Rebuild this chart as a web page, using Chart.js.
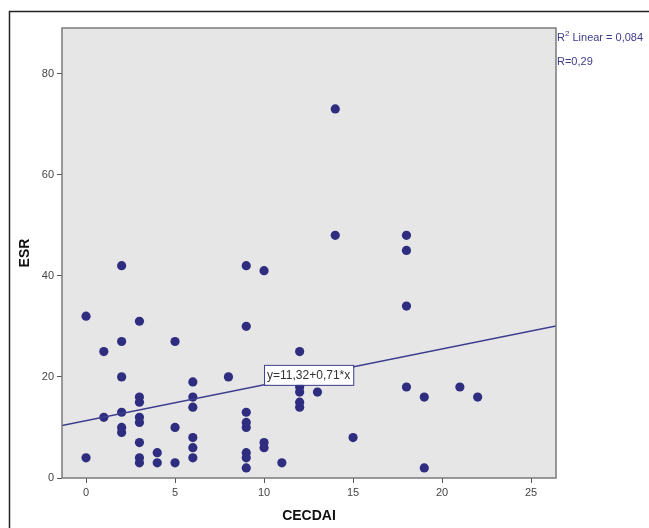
<!DOCTYPE html>
<html>
<head>
<meta charset="utf-8">
<script src="https://cdn.jsdelivr.net/npm/chart.js@4/dist/chart.umd.min.js"></script>
<style>
  html, body { margin: 0; padding: 0; background: #fff; }
  #wrap { width: 649px; height: 528px; position: relative; }
</style>
</head>
<body>
<div id="wrap"><canvas id="chart"></canvas></div>
<script>
// CECDAI vs ESR, one point per patient
var cecdai = [0, 0, 1, 1, 2, 2, 2, 2, 2, 2,
              3, 3, 3, 3, 3, 3, 3, 3,
              4, 4, 5, 5, 5,
              6, 6, 6, 6, 6, 6, 8,
              9, 9, 9, 9, 9, 9, 9, 9,
              10, 10, 10, 11,
              12, 12, 12, 12, 12, 13,
              14, 14, 15,
              18, 18, 18, 18, 19, 19, 21, 22];
var esr    = [32, 4, 25, 12, 42, 27, 20, 13, 10, 9,
              31, 16, 15, 12, 11, 7, 4, 3,
              5, 3, 27, 10, 3,
              19, 16, 14, 8, 6, 4, 20,
              42, 30, 13, 11, 10, 5, 4, 2,
              41, 7, 6, 3,
              25, 18, 17, 15, 14, 17,
              73, 48, 8,
              48, 45, 34, 18, 16, 2, 18, 16];

// fit line
var intercept = 11.32;
var slope = 0.71;
var fitLabel = "y=11,32+0,71*x";
var statLines = ["R² Linear = 0,084", "R=0,29"];

var xTicks = [0, 5, 10, 15, 20, 25];
var yTicks = [0, 20, 40, 60, 80];
var xMin = -1.35, xMax = 26.4;
var yMin = 0, yMax = 89;

var navy = "#2e2d7f";
var lineCol = "#3d3d8f";

var points = cecdai.map(function(x, i) { return {x: x, y: esr[i]}; });
var fitPts = [xMin, xMax].map(function(x) { return {x: x, y: intercept + slope * x}; });

var frame = {
  id: "frame",
  beforeDatasetsDraw: function(chart) {
    var c = chart.ctx, a = chart.chartArea;
    c.save();
    c.fillStyle = "#e6e6e6";
    c.fillRect(a.left, a.top, a.right - a.left, a.bottom - a.top);
    c.restore();
  },
  afterDraw: function(chart) {
    var c = chart.ctx, a = chart.chartArea;
    var xs = chart.scales.x, ys = chart.scales.y;
    c.save();
    // plot box
    c.strokeStyle = "#7a7a7a";
    c.lineWidth = 1.5;
    c.strokeRect(a.left, a.top, a.right - a.left, a.bottom - a.top);
    // outer frame
    c.strokeStyle = "#222";
    c.lineWidth = 1.5;
    c.beginPath();
    c.moveTo(9.5, chart.height);
    c.lineTo(9.5, 11.5);
    c.lineTo(chart.width, 11.5);
    c.stroke();

    // equation label on the fit line
    var lx = 10;
    var px = xs.getPixelForValue(lx);
    var py = ys.getPixelForValue(intercept + slope * lx);
    c.font = "12px 'Liberation Sans', Arial, sans-serif";
    var w = c.measureText(fitLabel).width + 6;
    var h = 20;
    c.fillStyle = "#fff";
    c.fillRect(px, py - h, w, h);
    c.strokeStyle = lineCol;
    c.lineWidth = 1;
    c.strokeRect(px + 0.5, py - h + 0.5, w, h);
    c.fillStyle = "#333";
    c.textBaseline = "middle";
    c.fillText(fitLabel, px + 3, py - h / 2 + 1);

    // R2 / R text at right of plot
    c.fillStyle = "#3b3b8c";
    c.font = "11px 'Liberation Sans', Arial, sans-serif";
    var tx = a.right + 1;
    c.fillText("R", tx, a.top + 10);
    var rw = c.measureText("R").width;
    c.font = "8px 'Liberation Sans', Arial, sans-serif";
    c.fillText("2", tx + rw, a.top + 6);
    var sw = c.measureText("2").width;
    c.font = "11px 'Liberation Sans', Arial, sans-serif";
    c.fillText(statLines[0].slice(2), tx + rw + sw, a.top + 10);
    c.fillText(statLines[1], tx, a.top + 34);
    c.restore();
  }
};

new Chart(document.getElementById("chart"), {
  type: "scatter",
  data: {
    datasets: [
      {
        data: points,
        backgroundColor: navy,
        borderWidth: 0,
        pointRadius: 4.6,
        order: 2
      },
      {
        type: "line",
        data: fitPts,
        borderColor: lineCol,
        borderWidth: 1.5,
        pointRadius: 0,
        fill: false,
        order: 1
      }
    ]
  },
  options: {
    responsive: true,
    maintainAspectRatio: false,
    animation: false,
    layout: { padding: { left: 0, top: 28, right: 93, bottom: 0 } },
    plugins: { legend: { display: false }, tooltip: { enabled: false } },
    scales: {
      x: {
        type: "linear",
        min: xMin, max: xMax,
        afterFit: function(s) { s.height = 50; },
        afterBuildTicks: function(s) { s.ticks = xTicks.map(function(v) { return {value: v}; }); },
        border: { display: false },
        grid: { drawOnChartArea: false, tickLength: 5, color: "#555", lineWidth: 1 },
        ticks: { padding: 3, color: "#444", font: { family: "'Liberation Sans', Arial", size: 11 } },
        title: { display: true, text: "CECDAI", color: "#111", padding: { top: 0, bottom: 3 },
                 font: { family: "'Liberation Sans', Arial", size: 14, weight: "bold" } }
      },
      y: {
        type: "linear",
        min: yMin, max: yMax,
        afterFit: function(s) { s.width = 62; },
        afterBuildTicks: function(s) { s.ticks = yTicks.map(function(v) { return {value: v}; }); },
        border: { display: false },
        grid: { drawOnChartArea: false, tickLength: 5, color: "#555", lineWidth: 1 },
        ticks: { padding: 3, color: "#444", font: { family: "'Liberation Sans', Arial", size: 11 } },
        title: { display: true, text: "ESR", color: "#111", padding: { top: 17, bottom: 0 },
                 font: { family: "'Liberation Sans', Arial", size: 14, weight: "bold" } }
      }
    }
  },
  plugins: [frame]
});
</script>
</body>
</html>
